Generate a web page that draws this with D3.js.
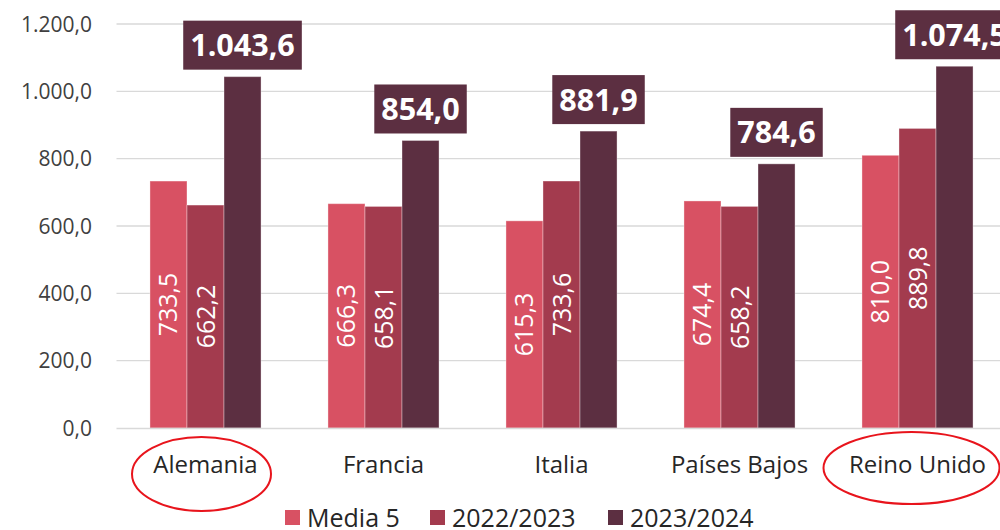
<!DOCTYPE html>
<html>
<head>
<meta charset="utf-8">
<script src="https://cdn.jsdelivr.net/npm/d3@7"></script>
<style>
  body { margin: 0; background: #fff; }
  svg { display: block; font-family: 'Open Sans', 'Noto Sans', sans-serif; }
</style>
</head>
<body>
<svg id="chart" width="1000" height="530"></svg>
<script>
const countries = ['Alemania', 'Francia', 'Italia', 'Países Bajos', 'Reino Unido'];
const seriesNames = ['Media 5', '2022/2023', '2023/2024'];
const media5 = [733.5, 666.3, 615.3, 674.4, 810.0];
const y2223 = [662.2, 658.1, 733.6, 658.2, 889.8];
const y2324 = [1043.6, 854.0, 881.9, 784.6, 1074.5];
const yTicks = [0, 200, 400, 600, 800, 1000, 1200];
const circled = ['Alemania', 'Reino Unido'];

const colors = ['#d85163', '#a33b4e', '#5c2f41'];
const series = [media5, y2223, y2324];

const locale = d3.formatLocale({decimal: ',', thousands: '.', grouping: [3], currency: ['', '€']});
const fmt = locale.format(',.1f');

const svg = d3.select('#chart');
const plotLeft = 116.5;
const plotBottom = 428;
const plotTop = 24;

let x = d3.scaleBand()
  .domain(countries)
  .range([plotLeft, plotLeft + 5 * 178])
  .paddingInner(0.376)
  .paddingOuter(0.188);

let xs = d3.scaleBand()
  .domain(d3.range(3))
  .range([0, x.bandwidth()]);

let y = d3.scaleLinear().domain([0, 1200]).range([plotBottom, plotTop]);

// grid
svg.append('g')
  .selectAll('line')
  .data(yTicks.filter(function(d) { return d > 0; }))
  .enter().append('line')
    .attr('x1', plotLeft)
    .attr('x2', 1000)
    .attr('y1', function(d) { return y(d); })
    .attr('y2', function(d) { return y(d); })
    .attr('stroke', '#d9d9d9')
    .attr('stroke-width', 1.3);

// y labels
svg.append('g')
  .selectAll('text')
  .data(yTicks)
  .enter().append('text')
    .attr('x', 92)
    .attr('y', function(d) { return y(d); })
    .attr('dy', '0.36em')
    .attr('text-anchor', 'end')
    .attr('fill', '#404040')
    .style('font-size', '21px')
    .text(function(d) { return fmt(d); });

// bars
let groups = svg.append('g')
  .selectAll('g')
  .data(countries)
  .enter().append('g')
    .attr('transform', function(d) { return 'translate(' + x(d) + ',0)'; });

groups.selectAll('rect')
  .data(function(d, i) {
    return series.map(function(s, k) { return {k: k, v: s[i]}; });
  })
  .enter().append('rect')
    .attr('x', function(d) { return xs(d.k); })
    .attr('width', xs.bandwidth())
    .attr('y', function(d) { return y(d.v); })
    .attr('height', function(d) { return plotBottom - y(d.v); })
    .attr('fill', function(d) { return colors[d.k]; })
    .attr('stroke', 'rgba(255,255,255,0.35)')
    .attr('stroke-width', 1);

// rotated labels inside first two series
groups.selectAll('text.inner')
  .data(function(d, i) {
    return [0, 1].map(function(k) { return {k: k, v: series[k][i]}; });
  })
  .enter().append('text')
    .attr('class', 'inner')
    .attr('transform', function(d) {
      let cx = xs(d.k) + xs.bandwidth() / 2;
      let cy = (y(d.v) + plotBottom) / 2;
      return 'translate(' + cx + ',' + cy + ') rotate(-90)';
    })
    .attr('text-anchor', 'middle')
    .attr('dy', '0.36em')
    .attr('fill', '#fff')
    .style('font-size', '25px')
    .text(function(d) { return fmt(d.v); });

// boxed labels above 2023/2024
groups.each(function(c, i) {
  let g = d3.select(this);
  let v = y2324[i];
  let cx = xs(2) + xs.bandwidth() / 2;
  let t = g.append('text')
    .attr('x', cx)
    .attr('y', y(v) - 7 - 24.5)
    .attr('dy', '0.36em')
    .attr('text-anchor', 'middle')
    .attr('fill', '#fff')
    .style('font-size', '30.5px')
    .style('font-weight', 'bold')
    .text(fmt(v));
  let w = t.node().getComputedTextLength() + 14;
  g.insert('rect', function() { return t.node(); })
    .attr('x', cx - w / 2)
    .attr('y', y(v) - 7 - 49)
    .attr('width', w)
    .attr('height', 49)
    .attr('fill', colors[2]);
});

// axis line
svg.append('line')
  .attr('x1', plotLeft).attr('x2', 1000)
  .attr('y1', plotBottom + 0.5).attr('y2', plotBottom + 0.5)
  .attr('stroke', '#d9d9d9')
  .attr('stroke-width', 1.3);

// category labels
svg.append('g')
  .selectAll('text')
  .data(countries)
  .enter().append('text')
    .attr('x', function(d) { return x(d) + x.bandwidth() / 2; })
    .attr('y', 473)
    .attr('text-anchor', 'middle')
    .attr('fill', '#262626')
    .style('font-size', '24px')
    .text(function(d) { return d; });

// red ellipses
const ell = {
  'Alemania': {dx: -4, cy: 474, rx: 69.5, ry: 37},
  'Reino Unido': {dx: -6, cy: 468, rx: 88, ry: 36}
};
svg.append('g')
  .selectAll('ellipse')
  .data(circled)
  .enter().append('ellipse')
    .attr('cx', function(d) { return x(d) + x.bandwidth() / 2 + ell[d].dx; })
    .attr('cy', function(d) { return ell[d].cy; })
    .attr('rx', function(d) { return ell[d].rx; })
    .attr('ry', function(d) { return ell[d].ry; })
    .attr('fill', 'none')
    .attr('stroke', '#e8141c')
    .attr('stroke-width', 2);

// legend
const legendX = [285, 430, 608];
let lg = svg.append('g')
  .selectAll('g')
  .data(seriesNames)
  .enter().append('g')
    .attr('transform', function(d, i) { return 'translate(' + legendX[i] + ',510)'; });

lg.append('rect')
  .attr('width', 15)
  .attr('height', 15)
  .attr('fill', function(d, i) { return colors[i]; });

lg.append('text')
  .attr('x', 22)
  .attr('y', 7.5)
  .attr('dy', '0.36em')
  .attr('fill', '#262626')
  .style('font-size', '25px')
  .text(function(d) { return d; });
</script>
</body>
</html>
